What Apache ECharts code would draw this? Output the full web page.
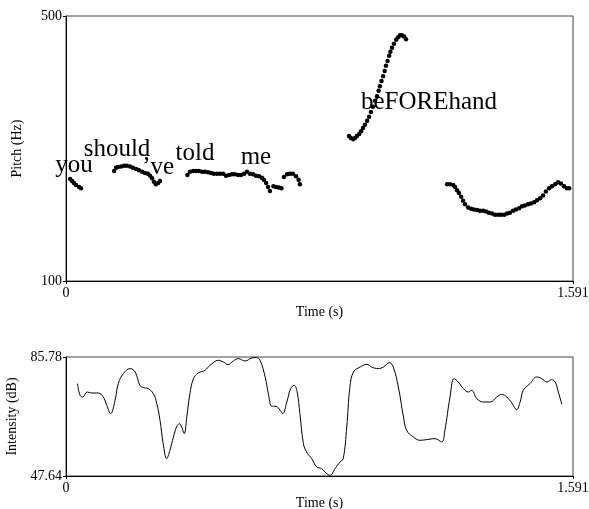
<!DOCTYPE html>
<html>
<head>
<meta charset="utf-8">
<script src="https://cdn.jsdelivr.net/npm/echarts@6/dist/echarts.min.js"></script>
<style>
  html, body { margin: 0; padding: 0; background: #fff; }
  #main { width: 589px; height: 509px; }
</style>
</head>
<body>
<div id="main"></div>
<script>
// 音高点 (s, Hz)，按音段排列
const pitchTimes = [
  0.013, 0.019, 0.025, 0.031, 0.041, 0.047,
  0.151, 0.157, 0.163, 0.173, 0.182, 0.191, 0.201, 0.210, 0.220, 0.229, 0.239, 0.248, 0.257, 0.264, 0.270, 0.276, 0.282, 0.289, 0.295,
  0.381, 0.389, 0.399, 0.408, 0.417, 0.427, 0.436, 0.446, 0.455, 0.464, 0.474, 0.483, 0.493, 0.502, 0.512, 0.521, 0.530, 0.540, 0.549, 0.559, 0.568, 0.577, 0.587, 0.596, 0.606, 0.615, 0.621, 0.628, 0.634, 0.640,
  0.651, 0.659, 0.668, 0.676,
  0.684, 0.694, 0.703, 0.712, 0.722, 0.730, 0.734,
  0.888, 0.894, 0.901, 0.907, 0.913, 0.920, 0.926, 0.932, 0.938, 0.945, 0.951, 0.957, 0.963, 0.970, 0.976, 0.981, 0.985, 0.990, 0.995, 1.000, 1.004, 1.009, 1.014, 1.018, 1.023, 1.029, 1.036, 1.042, 1.048, 1.054, 1.061, 1.067,
  1.196, 1.205, 1.215, 1.221, 1.227, 1.233, 1.240, 1.246, 1.252, 1.262, 1.271, 1.280, 1.290, 1.299, 1.309, 1.318, 1.327, 1.337, 1.346, 1.356, 1.365, 1.375, 1.384, 1.393, 1.403, 1.412, 1.422, 1.431, 1.440, 1.450, 1.459, 1.469, 1.478, 1.488, 1.497, 1.506, 1.516, 1.525, 1.535, 1.544, 1.553, 1.563, 1.572, 1.579
];
const pitchHz = [
  254, 251, 248, 245, 242, 240,
  266, 271, 272, 273, 274, 274, 273, 271, 269, 267, 265, 263, 262, 259, 255, 250, 246, 248, 251,
  260, 265, 266, 266, 266, 265, 265, 264, 263, 262, 262, 262, 262, 259, 260, 261, 261, 260, 260, 262, 265, 262, 261, 259, 258, 256, 253, 248, 242, 236,
  243, 242, 241, 240,
  257, 261, 262, 262, 258, 253, 246,
  319, 316, 314, 316, 319, 322, 326, 331, 336, 342, 348, 355, 363, 372, 379, 387, 394, 402, 409, 417, 425, 432, 440, 446, 452, 458, 464, 468, 471, 471, 469, 465,
  246, 246, 245, 242, 237, 233, 227, 221, 216, 211, 209, 208, 207, 206, 206, 205, 203, 202, 200, 200, 200, 200, 202, 203, 206, 208, 210, 213, 214, 216, 217, 219, 222, 225, 229, 235, 240, 243, 246, 249, 247, 243, 240, 240
];

// 词标注 (中心位置)
const words = ['you', 'should', '\u2019ve', 'told', 'me', 'beFOREhand'];
const wordTimes = [0.025, 0.160, 0.289, 0.405, 0.596, 1.139];
const wordHz = [274, 299, 272, 292, 286, 370];

// 强度曲线 (s, dB)
const intensityTimes = [
  0.036, 0.044, 0.052, 0.067, 0.081, 0.101, 0.117, 0.128, 0.140, 0.154,
  0.164, 0.180, 0.201, 0.217, 0.232, 0.243, 0.258, 0.274, 0.285, 0.295,
  0.305, 0.316, 0.326, 0.337, 0.347, 0.356, 0.363, 0.371, 0.379, 0.389,
  0.400, 0.415, 0.436, 0.452, 0.478, 0.494, 0.509, 0.525, 0.541, 0.562,
  0.583, 0.598, 0.609, 0.625, 0.635, 0.646, 0.659, 0.672, 0.680, 0.693,
  0.705, 0.716, 0.725, 0.734, 0.745, 0.755, 0.771, 0.787, 0.802, 0.818,
  0.829, 0.844, 0.860, 0.870, 0.881, 0.891, 0.902, 0.923, 0.944, 0.959,
  0.980, 0.996, 1.015, 1.027, 1.043, 1.059, 1.069, 1.090, 1.111, 1.132,
  1.158, 1.179, 1.189, 1.205, 1.218, 1.231, 1.247, 1.263, 1.273, 1.289,
  1.310, 1.331, 1.352, 1.367, 1.383, 1.399, 1.414, 1.425, 1.435, 1.456,
  1.477, 1.493, 1.509, 1.524, 1.535, 1.545, 1.556
];
const intensityDb = [
  77.25, 73.50, 72.96, 74.56, 74.24, 74.24, 72.96, 70.30, 67.64, 71.90,
  77.25, 80.46, 82.06, 80.97, 76.71, 75.97, 75.65, 74.05, 70.84, 65.49,
  58.02, 53.21, 55.87, 60.14, 63.34, 64.43, 63.34, 61.23, 66.55, 74.05,
  78.85, 80.65, 81.51, 83.12, 84.72, 84.18, 83.34, 84.50, 85.26, 84.50,
  85.46, 85.59, 84.72, 79.37, 74.05, 69.98, 69.98, 68.69, 67.64, 71.36,
  75.65, 76.71, 74.78, 67.64, 58.02, 55.33, 53.21, 50.52, 49.99, 48.41,
  47.86, 49.99, 52.12, 53.21, 63.34, 76.16, 80.97, 82.57, 83.44, 82.57,
  82.06, 82.57, 83.98, 82.57, 76.16, 66.55, 62.28, 60.14, 59.08, 59.30,
  59.62, 58.54, 62.28, 72.96, 78.85, 77.77, 75.65, 74.56, 75.11, 72.44,
  71.36, 71.36, 72.96, 73.82, 72.96, 71.03, 68.92, 71.36, 75.11, 77.25,
  79.37, 78.85, 77.77, 78.53, 77.77, 74.56, 70.62
];

const timeTicks = [0, 1.591];
const pitchTicks = [100, 500];
const intensityTicks = [47.64, 85.78];

const FONT = 'Liberation Serif';
const chart = echarts.init(document.getElementById('main'), null, { renderer: 'canvas' });

function timeAxis(gridIndex, gap) {
  return {
    gridIndex: gridIndex,
    type: 'value',
    min: timeTicks[0],
    max: timeTicks[1],
    name: 'Time (s)',
    nameLocation: 'middle',
    nameGap: gap,
    nameTextStyle: { fontFamily: FONT, fontSize: 14, color: '#000' },
    axisLine: { onZero: false, lineStyle: { color: '#000', width: 1 } },
    axisTick: { show: true, length: 3, customValues: timeTicks, lineStyle: { color: '#000' } },
    axisLabel: { customValues: timeTicks, margin: 5, fontFamily: FONT, fontSize: 14, color: '#000' },
    splitLine: { show: false }
  };
}

function valueAxis(gridIndex, ticks, name) {
  return {
    gridIndex: gridIndex,
    type: 'value',
    min: ticks[0],
    max: ticks[1],
    name: name,
    nameLocation: 'middle',
    nameGap: 42,
    nameTextStyle: { fontFamily: FONT, fontSize: 14, color: '#000' },
    axisLine: { show: true, onZero: false, lineStyle: { color: '#000', width: 1 } },
    axisTick: { show: true, length: 3, customValues: ticks, lineStyle: { color: '#000' } },
    axisLabel: { customValues: ticks, margin: 4, fontFamily: FONT, fontSize: 14, color: '#000' },
    splitLine: { show: false }
  };
}

const option = {
  animation: false,
  backgroundColor: '#fff',
  grid: [
    { left: 66, top: 16, width: 507, height: 265, show: true, borderColor: '#444', borderWidth: 1, outerBoundsMode: 'none' },
    { left: 66, top: 357, width: 507, height: 119, show: true, borderColor: '#444', borderWidth: 1, outerBoundsMode: 'none' }
  ],
  xAxis: [timeAxis(0, 16), timeAxis(1, 20)],
  yAxis: [valueAxis(0, pitchTicks, 'Pitch (Hz)'), valueAxis(1, intensityTicks, 'Intensity (dB)')],
  series: [
    {
      name: 'words',
      type: 'scatter',
      xAxisIndex: 0,
      yAxisIndex: 0,
      z: 1,
      silent: true,
      clip: false,
      symbolSize: 0,
      itemStyle: { color: '#000', opacity: 1 },
      label: {
        show: true,
        position: 'inside',
        formatter: '{b}',
        fontFamily: FONT,
        fontSize: 25,
        color: '#000',
        opacity: 1,
        textBorderWidth: 0,
        textBorderColor: 'transparent'
      },
      data: words.map((w, i) => ({ name: w, value: [wordTimes[i], wordHz[i]] }))
    },
    {
      name: 'pitch',
      type: 'scatter',
      xAxisIndex: 0,
      yAxisIndex: 0,
      z: 3,
      silent: true,
      symbolSize: 4.5,
      itemStyle: { color: '#000', opacity: 1 },
      data: pitchTimes.map((t, i) => [t, pitchHz[i]])
    },
    {
      name: 'intensity',
      type: 'line',
      xAxisIndex: 1,
      yAxisIndex: 1,
      silent: true,
      smooth: 0.4,
      showSymbol: false,
      lineStyle: { color: '#000', width: 1 },
      data: intensityTimes.map((t, i) => [t, intensityDb[i]])
    }
  ]
};

chart.setOption(option);
</script>
</body>
</html>
